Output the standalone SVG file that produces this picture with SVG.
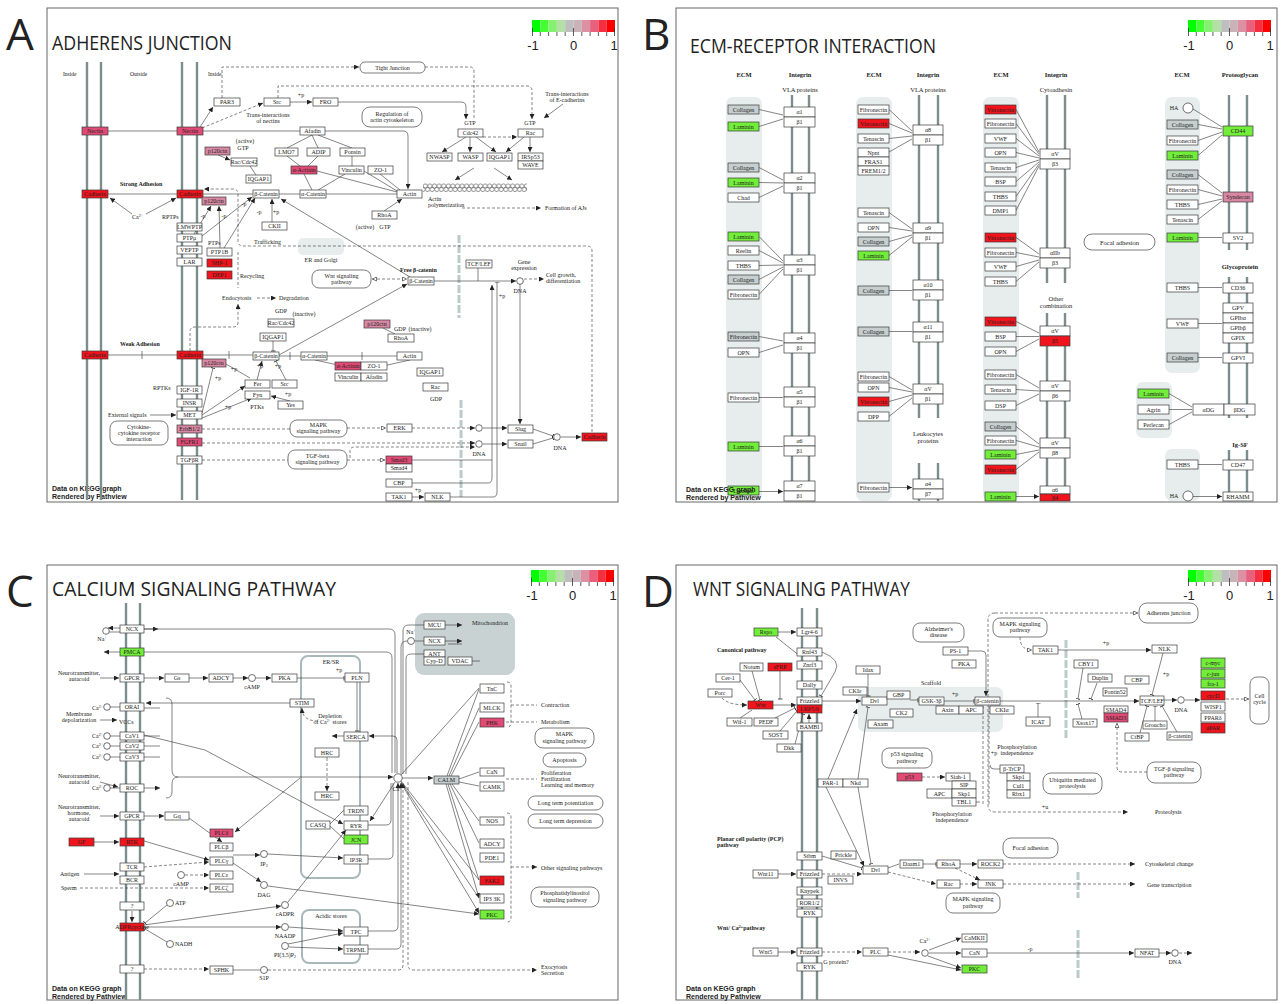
<svg xmlns="http://www.w3.org/2000/svg" width="1285" height="1004" viewBox="0 0 1285 1004">
<style>
.fr{fill:none;stroke:#666;stroke-width:1}
.n{fill:#fff;stroke:#3a3a3a;stroke-width:0.7}
.R{fill:#f2141c}.P{fill:#e24a76}.L{fill:#d888a2}.G{fill:#72ee3a}.Y{fill:#c6cece}
.t{font-family:"Liberation Serif",serif;font-size:6px;text-anchor:middle;fill:#222}
.tb{font-family:"Liberation Serif",serif;font-size:6.5px;text-anchor:middle;fill:#222}
.s{font-family:"Liberation Serif",serif;font-size:6px;fill:#222}
.sm{font-family:"Liberation Serif",serif;font-size:5.5px;fill:#222}
.b{font-weight:bold}
.m{stroke:#7b8d8d;stroke-width:2.4}
.e{fill:none;stroke:#333;stroke-width:0.6}
.d{stroke-dasharray:3 2}
.rb{fill:#fff;stroke:#444;stroke-width:0.7}
.bg{fill:#e7ecec}
.sep{stroke:#bccaca;stroke-width:3;stroke-dasharray:8 2;fill:none}
.ttl{font-family:"Open Sans",sans-serif;font-size:20px;fill:#222}
.big{font-family:"Open Sans",sans-serif;font-size:44px;fill:#222}
.ft{font-family:"Liberation Sans",sans-serif;font-size:7px;font-weight:bold;fill:#222}
.ci{fill:#fff;stroke:#333;stroke-width:0.7}
.lg{font-family:"Liberation Sans",sans-serif;font-size:13px;fill:#222;text-anchor:middle}
</style>
<defs>
<marker id="ma" viewBox="0 0 10 10" refX="10" refY="5" markerWidth="5" markerHeight="5" markerUnits="userSpaceOnUse" orient="auto"><path d="M0 0L10 5L0 10z" fill="#222"/></marker>
<marker id="mo" viewBox="0 0 10 10" refX="10" refY="5" markerWidth="5" markerHeight="5" markerUnits="userSpaceOnUse" orient="auto-start-reverse"><path d="M1 1L9 5L1 9z" fill="#fff" stroke="#222" stroke-width="1.2"/></marker>
<marker id="mt" viewBox="0 0 10 10" refX="9" refY="5" markerWidth="5" markerHeight="5" markerUnits="userSpaceOnUse" orient="auto"><path d="M9 0V10" stroke="#222" stroke-width="1.6"/></marker>
<pattern id="actin" x="423" y="183" width="4.6" height="10" patternUnits="userSpaceOnUse"><circle cx="2.3" cy="3" r="2.1" fill="#fff" stroke="#333" stroke-width="0.5"/><circle cx="4.6" cy="6.5" r="2.1" fill="#fff" stroke="#333" stroke-width="0.5"/><circle cx="0" cy="6.5" r="2.1" fill="#fff" stroke="#333" stroke-width="0.5"/></pattern>
<g id="leg">
<rect x="0" y="0" width="8.3" height="12" fill="#00ff00"/><rect x="8.3" y="0" width="8.3" height="12" fill="#44ff33"/><rect x="16.6" y="0" width="8.3" height="12" fill="#88f070"/><rect x="24.9" y="0" width="8.3" height="12" fill="#b4e0a8"/><rect x="33.2" y="0" width="8.3" height="12" fill="#bebebe"/><rect x="41.5" y="0" width="8.3" height="12" fill="#c8b4b8"/><rect x="49.8" y="0" width="8.3" height="12" fill="#dc90a4"/><rect x="58.1" y="0" width="8.3" height="12" fill="#e8607c"/><rect x="66.4" y="0" width="8.3" height="12" fill="#f43040"/><rect x="74.7" y="0" width="8.3" height="12" fill="#ff0000"/>
<path d="M0.5 8V16M8.3 12V16M16.6 12V16M24.9 12V16M33.2 12V16M41.5 8V16M49.8 12V16M58.1 12V16M66.4 12V16M74.7 12V16M82.5 8V16" stroke="#333" stroke-width="0.8"/>
<text class="lg" x="1" y="30">-1</text><text class="lg" x="41.5" y="30">0</text><text class="lg" x="82" y="30">1</text>
</g>
</defs>
<rect width="1285" height="1004" fill="#fff"/>

<!-- ===================== PANEL A ===================== -->
<g id="panelA">
<rect class="fr" x="47" y="8" width="571" height="494"/>
<text class="big" x="6" y="50">A</text>
<text class="ttl" x="52" y="50" textLength="180" lengthAdjust="spacingAndGlyphs">ADHERENS JUNCTION</text>
<use href="#leg" x="532" y="20"/>
<text class="ft" x="52" y="491">Data on KEGG graph</text>
<text class="ft" x="52" y="499">Rendered by Pathview</text>
<g id="a-membrane"><path class="m" d="M87 62V500M101 62V500M182 62V500M197 62V500"/></g>
<text class="sm" x="63" y="76">Inside</text><text class="sm" x="130" y="76">Outside</text><text class="sm" x="208" y="76">Inside</text>
<text class="s b" x="120" y="186">Strong Adhesion</text>
<text class="s b" x="120" y="346">Weak Adhesion</text>
<text class="s" x="132" y="219">Ca<tspan font-size="4" dy="-2">2+</tspan></text>
<text class="s" x="162" y="219">RPTPs</text>
<text class="s" x="208" y="245">PTPs</text>
<text class="s" x="153" y="390">RPTKs</text>
<text class="s" x="108" y="417">External signals</text>
<text class="s" x="254" y="244">Trafficking</text>
<text class="s" x="240" y="278">Recycling</text>
<text class="s" x="222" y="300">Endocytosis</text>
<text class="s" x="279" y="300">Degradation</text>
<text class="t" x="268" y="117">Trans-interactions</text><text class="t" x="268" y="123">of nectins</text>
<text class="t" x="567" y="96">Trans-interactions</text><text class="t" x="567" y="102">of E-cadherins</text>
<text class="t" x="245" y="143">(active)</text><text class="t" x="243" y="150">GTP</text>
<text class="t" x="470" y="125">GTP</text><text class="t" x="530" y="125">GTP</text>
<text class="t" x="365" y="229">(active)</text><text class="t" x="385" y="229">GTP</text>
<text class="s" x="428" y="201">Actin</text><text class="s" x="428" y="207">polymerization</text>
<text class="s" x="545" y="210">Formation of AJs</text>
<text class="t" x="321" y="262">ER and Golgi</text>
<text class="s b" x="400" y="272">Free β-catenin</text>
<text class="t" x="524" y="264">Gene</text><text class="t" x="524" y="270">expression</text>
<text class="t" x="520" y="293">DNA</text>
<text class="s" x="546" y="277">Cell growth,</text><text class="s" x="546" y="283">differentiation</text>
<text class="t" x="281" y="313">GDP</text><text class="t" x="304" y="316">(inactive)</text>
<text class="t" x="400" y="331">GDP</text><text class="t" x="420" y="331">(inactive)</text>
<text class="t" x="436" y="401">GDP</text>
<text class="t" x="257" y="409">PTKs</text>
<text class="t" x="479" y="456">DNA</text><text class="t" x="560" y="450">DNA</text>
<text class="t" x="301" y="97">+p</text>
<text class="t" x="203" y="218">-p</text><text class="t" x="224" y="218">-p</text><text class="t" x="244" y="206">-p</text><text class="t" x="259" y="214">-p</text><text class="t" x="276" y="214">+p</text>
<text class="t" x="218" y="380">+p</text><text class="t" x="228" y="409">+p</text><text class="t" x="234" y="371">+p</text><text class="t" x="260" y="368">+p</text><text class="t" x="278" y="368">+p</text><text class="t" x="288" y="396">+p</text>
<text class="t" x="502" y="298">+p</text><text class="t" x="418" y="492">+p</text>
<path class="sep" d="M459 235V318M461 400V497"/>
<rect x="298" y="238" width="46" height="17" rx="5" class="bg"/>
<rect x="423" y="183" width="104" height="10" fill="url(#actin)"/>

<g id="a-edges" class="e">
<path d="M108 131H177M203 131H300M108 194H177M203 194H253M279 194H300M326 194H397"/>
<path d="M200 127L213 107" marker-end="url(#ma)"/>
<path class="d" d="M202 128L263 103" marker-end="url(#ma)"/>
<path d="M290 102H312" marker-end="url(#ma)"/>
<path d="M338 102H461Q466 102 466 107V119" marker-end="url(#ma)"/>
<path class="d" d="M222 98V67H359" marker-end="url(#ma)"/>
<path class="d" d="M278 98V86H527Q532 86 532 91V119" marker-end="url(#ma)"/>
<path class="d" d="M425 67H470Q474 67 474 72V119" />
<path d="M325 131H403Q408 131 408 136V189" marker-end="url(#ma)"/>
<path d="M312 135L287 148M312 135L318 148M318 135L352 148M287 156L300 166M318 156L308 166M352 156V166M317 171L397 192M364 171L397 191M380 174L400 190M304 174L312 190M345 174L318 190"/>
<path d="M218 155L230 160" marker-end="url(#ma)"/>
<path d="M250 166L256 175"/>
<path d="M132 214L110 198" marker-end="url(#ma)"/><path d="M146 214L176 198" marker-end="url(#ma)"/>
<path d="M194 234L211 206" marker-end="url(#ma)"/><path d="M220 248L219 206" marker-end="url(#ma)"/>
<path d="M202 236L252 197" marker-end="url(#ma)"/><path d="M224 248L255 198" marker-end="url(#ma)"/>
<path d="M272 222V199" marker-end="url(#ma)"/>
<path d="M384 211L402 199" marker-end="url(#ma)"/>
<path class="d" d="M592 432V251Q592 246 587 246H243Q238 246 238 241V194Q238 189 233 189H204" marker-end="url(#ma)"/>
<path class="d" d="M238 252V288"/>
<path class="d" d="M190 351V332Q190 327 195 327H233Q238 327 238 322V304" marker-end="url(#ma)"/>
<path class="d" d="M257 298H276" marker-end="url(#ma)"/>
<path class="d" d="M372 279H407" marker-start="url(#mo)" marker-end="url(#mo)"/>
<path d="M410 277L281 199" marker-end="url(#ma)"/>
<path d="M279 355L407 284" marker-end="url(#ma)"/>
<path d="M434 281H516" marker-end="url(#ma)"/>
<path d="M478 268V281"/>
<path class="d" d="M524 279H544" marker-end="url(#ma)"/>
<path d="M520 283V424" marker-end="url(#ma)"/>
<path d="M412 483H488Q492 483 492 478V285" marker-end="url(#ma)"/>
<path d="M412 460H492"/>
<path d="M450 497H493Q497 497 497 492V282" marker-end="url(#mt)"/>
<path d="M412 497H424" marker-end="url(#ma)"/>
<path class="d" d="M412 428H475" marker-end="url(#ma)"/>
<path class="d" d="M202 429H290"/>
<path class="d" d="M347 428H386" marker-end="url(#mo)"/>
<path class="d" d="M202 443H475" marker-end="url(#ma)"/>
<path class="d" d="M202 460H288"/>
<path class="d" d="M347 460H385" marker-end="url(#mo)"/>
<path class="d" d="M350 458V451Q350 447 355 447H475" marker-end="url(#ma)"/>
<path d="M483 428H507" marker-end="url(#ma)"/><path d="M483 444H507" marker-end="url(#ma)"/>
<path d="M533 429L553 436" marker-end="url(#mt)"/><path d="M533 444L553 438" marker-end="url(#mt)"/>
<path d="M561 437H581" marker-end="url(#ma)"/>
<path d="M150 415H176" marker-end="url(#ma)"/>
<path d="M483 137H517" class="d" marker-end="url(#ma)"/>
<path d="M466 137L442 152" marker-end="url(#ma)"/><path d="M470 137V152" marker-end="url(#ma)"/><path d="M476 137L496 152" marker-end="url(#ma)"/>
<path d="M524 137L506 152" marker-end="url(#ma)"/><path d="M530 137V152" marker-end="url(#ma)"/>
<path d="M474 168L455 180" marker-end="url(#ma)"/><path d="M494 168L512 180" marker-end="url(#ma)"/>
<path class="d" d="M462 208H541" marker-end="url(#ma)"/>
<path d="M563 104L544 118" marker-end="url(#ma)"/>
<path d="M108 355H177M142 351V359M203 355H253M229 351V359M279 356H301M290 352V360M327 356H397M362 352V360"/>
<path d="M202 413L213 368" marker-end="url(#mt)"/>
<path d="M202 415L245 386" marker-end="url(#ma)"/>
<path d="M202 418L252 398" marker-end="url(#ma)"/>
<path d="M226 364L250 378"/>
<path d="M257 380L262 361" marker-end="url(#ma)"/>
<path d="M286 380L276 361" marker-end="url(#mt)"/>
<path d="M290 401L271 396" marker-end="url(#ma)"/>
<path d="M273 341V351" marker-end="url(#mt)"/>
<path d="M383 328L395 334M315 360L338 365M410 360L383 366"/>
</g>

<g id="a-nectin1"><rect class="n P" x="82" y="127" width="26" height="8"/><text class="t" x="95" y="133">Nectin</text></g>
<g id="a-nectin2"><rect class="n P" x="177" y="127" width="26" height="8"/><text class="t" x="190" y="133">Nectin</text></g>
<g id="a-par3"><rect class="n" x="214" y="98" width="26" height="8"/><text class="t" x="227" y="104">PAR3</text></g>
<g id="a-src1"><rect class="n" x="264" y="98" width="26" height="8"/><text class="t" x="277" y="104">Src</text></g>
<g id="a-fro"><rect class="n" x="313" y="98" width="25" height="8"/><text class="t" x="325.5" y="104">FRO</text></g>
<g id="a-tj"><rect class="rb" x="360" y="62" width="65" height="11" rx="5"/><text class="t" x="392.5" y="69.5">Tight Junction</text></g>
<g id="a-reg"><rect class="rb" x="362" y="107" width="60" height="20" rx="8"/><text class="t" x="392" y="116">Regulation of</text><text class="t" x="392" y="122">actin cytoskeleton</text></g>
<g id="a-afadin1"><rect class="n" x="300" y="127" width="25" height="8"/><text class="t" x="312.5" y="133">Afadin</text></g>
<g id="a-p120a"><rect class="n L" x="205" y="147" width="25" height="8"/><text class="t" x="217.5" y="153">p120ctn</text></g>
<g id="a-raccdc1"><rect class="n" x="231" y="158" width="26" height="8"/><text class="t" x="244" y="164">Rac/Cdc42</text></g>
<g id="a-iqgap1"><rect class="n" x="246" y="175" width="25" height="8"/><text class="t" x="258.5" y="181">IQGAP1</text></g>
<g id="a-lmo7"><rect class="n" x="275" y="148" width="23" height="8"/><text class="t" x="286.5" y="154">LMO7</text></g>
<g id="a-adip"><rect class="n" x="307" y="148" width="23" height="8"/><text class="t" x="318.5" y="154">ADIP</text></g>
<g id="a-ponsin"><rect class="n" x="340" y="148" width="25" height="8"/><text class="t" x="352.5" y="154">Ponsin</text></g>
<g id="a-actinin1"><rect class="n P" x="291" y="166" width="26" height="8"/><text class="t" x="304" y="172">α-Actinin</text></g>
<g id="a-vinculin1"><rect class="n" x="339" y="166" width="25" height="8"/><text class="t" x="351.5" y="172">Vinculin</text></g>
<g id="a-zo1a"><rect class="n" x="368" y="166" width="25" height="8"/><text class="t" x="380.5" y="172">ZO-1</text></g>
<g id="a-cad1"><rect class="n R" x="82" y="190" width="26" height="8"/><text class="t" x="95" y="196">Cadherin</text></g>
<g id="a-cad2"><rect class="n R" x="177" y="190" width="26" height="8"/><text class="t" x="190" y="196">Cadherin</text></g>
<g id="a-p120b"><rect class="n L" x="202" y="197" width="24" height="8"/><text class="t" x="214" y="203">p120ctn</text></g>
<g id="a-bcat1"><rect class="n" x="253" y="190" width="26" height="8"/><text class="t" x="266" y="196">β-Catenin</text></g>
<g id="a-acat1"><rect class="n" x="300" y="190" width="26" height="8"/><text class="t" x="313" y="196">α-Catenin</text></g>
<g id="a-actin1"><rect class="n" x="397" y="190" width="25" height="8"/><text class="t" x="409.5" y="196">Actin</text></g>
<g id="a-rhoa1"><rect class="n" x="372" y="211" width="25" height="8"/><text class="t" x="384.5" y="217">RhoA</text></g>
<g id="a-ckii"><rect class="n" x="262" y="222" width="25" height="8"/><text class="t" x="274.5" y="228">CKII</text></g>
<g id="a-lmwptp"><rect class="n" x="177" y="223" width="25" height="8"/><text class="t" x="189.5" y="229">LMWPTP</text></g>
<g id="a-ptpmu"><rect class="n" x="177" y="234" width="25" height="8"/><text class="t" x="189.5" y="240">PTPμ</text></g>
<g id="a-veptp"><rect class="n" x="177" y="246" width="25" height="8"/><text class="t" x="189.5" y="252">VEPTP</text></g>
<g id="a-lar"><rect class="n" x="177" y="258" width="25" height="8"/><text class="t" x="189.5" y="264">LAR</text></g>
<g id="a-ptp1b"><rect class="n" x="207" y="248" width="25" height="8"/><text class="t" x="219.5" y="254">PTP1B</text></g>
<g id="a-shp1"><rect class="n R" x="207" y="259" width="25" height="8"/><text class="t" x="219.5" y="265">SHP-1</text></g>
<g id="a-dep1"><rect class="n R" x="207" y="271" width="25" height="8"/><text class="t" x="219.5" y="277">DEP1</text></g>
<g id="a-cdc42"><rect class="n" x="458" y="129" width="25" height="8"/><text class="t" x="470.5" y="135">Cdc42</text></g>
<g id="a-rac1"><rect class="n" x="518" y="129" width="25" height="8"/><text class="t" x="530.5" y="135">Rac</text></g>
<g id="a-nwasp"><rect class="n" x="427" y="153" width="25" height="8"/><text class="t" x="439.5" y="159">NWASP</text></g>
<g id="a-wasp"><rect class="n" x="458" y="153" width="25" height="8"/><text class="t" x="470.5" y="159">WASP</text></g>
<g id="a-iqgap2"><rect class="n" x="487" y="153" width="25" height="8"/><text class="t" x="499.5" y="159">IQGAP1</text></g>
<g id="a-irsp53"><rect class="n" x="518" y="153" width="25" height="8"/><text class="t" x="530.5" y="159">IRSp53</text><rect class="n" x="518" y="161" width="25" height="8"/><text class="t" x="530.5" y="167">WAVE</text></g>
<g id="a-wnt"><rect class="rb" x="312" y="270" width="59" height="18" rx="7"/><text class="t" x="341.5" y="278">Wnt signaling</text><text class="t" x="341.5" y="284">pathway</text></g>
<g id="a-bcatf"><rect class="n" x="408" y="277" width="26" height="8"/><text class="t" x="421" y="283">β-Catenin</text></g>
<g id="a-tcf"><rect class="n" x="466" y="260" width="26" height="8"/><text class="t" x="479" y="266">TCF/LEF</text></g>
<g id="a-dna1"><circle class="ci" cx="520" cy="281" r="3.3"/></g>
<g id="a-raccdc2"><rect class="n" x="268" y="319" width="26" height="8"/><text class="t" x="281" y="325">Rac/Cdc42</text></g>
<g id="a-iqgap3"><rect class="n" x="260" y="333" width="26" height="8"/><text class="t" x="273" y="339">IQGAP1</text></g>
<g id="a-p120c"><rect class="n L" x="364" y="320" width="26" height="8"/><text class="t" x="377" y="326">p120ctn</text></g>
<g id="a-rhoa2"><rect class="n" x="388" y="334" width="26" height="8"/><text class="t" x="401" y="340">RhoA</text></g>
<g id="a-cad3"><rect class="n R" x="82" y="351" width="26" height="8"/><text class="t" x="95" y="357">Cadherin</text></g>
<g id="a-cad4"><rect class="n R" x="177" y="351" width="26" height="8"/><text class="t" x="190" y="357">Cadherin</text></g>
<g id="a-p120d"><rect class="n L" x="202" y="359" width="24" height="8"/><text class="t" x="214" y="365">p120ctn</text></g>
<g id="a-bcat2"><rect class="n" x="253" y="352" width="26" height="8"/><text class="t" x="266" y="358">β-Catenin</text></g>
<g id="a-acat2"><rect class="n" x="301" y="352" width="26" height="8"/><text class="t" x="314" y="358">α-Catenin</text></g>
<g id="a-actin2"><rect class="n" x="397" y="352" width="25" height="8"/><text class="t" x="409.5" y="358">Actin</text></g>
<g id="a-actinin2"><rect class="n P" x="335" y="362" width="26" height="8"/><text class="t" x="348" y="368">α-Actinin</text></g>
<g id="a-zo1b"><rect class="n" x="361" y="362" width="26" height="8"/><text class="t" x="374" y="368">ZO-1</text></g>
<g id="a-vinculin2"><rect class="n" x="335" y="373" width="26" height="8"/><text class="t" x="348" y="379">Vinculin</text></g>
<g id="a-afadin2"><rect class="n" x="361" y="373" width="26" height="8"/><text class="t" x="374" y="379">Afadin</text></g>
<g id="a-iqgap4"><rect class="n" x="417" y="368" width="26" height="8"/><text class="t" x="430" y="374">IQGAP1</text></g>
<g id="a-rac2"><rect class="n" x="423" y="383" width="25" height="8"/><text class="t" x="435.5" y="389">Rac</text></g>
<g id="a-fer"><rect class="n" x="245" y="380" width="25" height="8"/><text class="t" x="257.5" y="386">Fer</text></g>
<g id="a-src2"><rect class="n" x="272" y="380" width="25" height="8"/><text class="t" x="284.5" y="386">Src</text></g>
<g id="a-fyn"><rect class="n" x="245" y="391" width="25" height="8"/><text class="t" x="257.5" y="397">Fyn</text></g>
<g id="a-yes"><rect class="n" x="278" y="401" width="25" height="8"/><text class="t" x="290.5" y="407">Yes</text></g>
<g id="a-igf1r"><rect class="n" x="177" y="386" width="25" height="8"/><text class="t" x="189.5" y="392">IGF-1R</text></g>
<g id="a-insr"><rect class="n" x="177" y="399" width="25" height="8"/><text class="t" x="189.5" y="405">INSR</text></g>
<g id="a-met"><rect class="n" x="177" y="411" width="25" height="8"/><text class="t" x="189.5" y="417">MET</text></g>
<g id="a-erbb"><rect class="n L" x="177" y="425" width="25" height="8"/><text class="t" x="189.5" y="431">ErbB1/2</text></g>
<g id="a-fgfr1"><rect class="n P" x="177" y="438" width="25" height="8"/><text class="t" x="189.5" y="444">FGFR1</text></g>
<g id="a-tgfbr"><rect class="n" x="177" y="456" width="25" height="8"/><text class="t" x="189.5" y="462">TGFβR</text></g>
<g id="a-cyto"><rect class="rb" x="110" y="421" width="58" height="24" rx="7"/><text class="t" x="139" y="429">Cytokine-</text><text class="t" x="139" y="435">cytokine receptor</text><text class="t" x="139" y="441">interaction</text></g>
<g id="a-mapk"><rect class="rb" x="290" y="420" width="57" height="17" rx="7"/><text class="t" x="318.5" y="427">MAPK</text><text class="t" x="318.5" y="433">signaling pathway</text></g>
<g id="a-erk"><rect class="n" x="387" y="424" width="25" height="8"/><text class="t" x="399.5" y="430">ERK</text></g>
<g id="a-tgfb"><rect class="rb" x="288" y="450" width="59" height="19" rx="7"/><text class="t" x="317.5" y="458">TGF-beta</text><text class="t" x="317.5" y="464">signaling pathway</text></g>
<g id="a-smad3"><rect class="n P" x="386" y="456" width="26" height="8"/><text class="t" x="399" y="462">Smad3</text><rect class="n" x="386" y="464" width="26" height="8"/><text class="t" x="399" y="470">Smad4</text></g>
<g id="a-cbp"><rect class="n" x="386" y="479" width="26" height="8"/><text class="t" x="399" y="485">CBP</text></g>
<g id="a-tak1"><rect class="n" x="386" y="493" width="26" height="8"/><text class="t" x="399" y="499">TAK1</text></g>
<g id="a-nlk"><rect class="n" x="425" y="493" width="25" height="8"/><text class="t" x="437.5" y="499">NLK</text></g>
<g id="a-c1"><circle class="ci" cx="479" cy="428" r="3.3"/></g>
<g id="a-c2"><circle class="ci" cx="479" cy="444" r="3.3"/></g>
<g id="a-slug"><rect class="n" x="508" y="425" width="25" height="8"/><text class="t" x="520.5" y="431">Slug</text></g>
<g id="a-snail"><rect class="n" x="508" y="440" width="25" height="8"/><text class="t" x="520.5" y="446">Snail</text></g>
<g id="a-dna2"><circle class="ci" cx="557" cy="437" r="3.3"/></g>
<g id="a-cad5"><rect class="n R" x="582" y="433" width="25" height="8"/><text class="t" x="594.5" y="439">Cadherin</text></g>
</g>

<!-- ===================== PANEL B ===================== -->
<g id="panelB">
<rect class="fr" x="676" y="8" width="601" height="494"/>
<text class="big" x="642" y="50">B</text>
<text class="ttl" x="690" y="53" textLength="246" lengthAdjust="spacingAndGlyphs">ECM-RECEPTOR INTERACTION</text>
<use href="#leg" x="1188" y="20"/>
<rect class="bg" x="726" y="97" width="36" height="404" rx="7"/>
<rect class="bg" x="856" y="97" width="36" height="404" rx="7"/>
<rect class="bg" x="983" y="97" width="36" height="404" rx="7"/>
<rect class="bg" x="1165" y="97" width="35" height="276" rx="7"/>
<rect class="bg" x="1136" y="382" width="36" height="56" rx="7"/>
<rect class="bg" x="1165" y="449" width="35" height="52" rx="7"/>
<path class="m" d="M792 95V501M809 95V501M919 95V418M938 95V418M919 463V501M938 463V501M1047 95V283M1065 95V283M1047 313V501M1065 313V501M1229 95V250M1247 95V250M1229 277V418M1247 277V418M1229 450V501M1247 450V501"/>
<g class="tb b"><text x="744" y="77">ECM</text><text x="800" y="77">Integrin</text><text x="874" y="77">ECM</text><text x="928" y="77">Integrin</text><text x="1001" y="77">ECM</text><text x="1056" y="77">Integrin</text><text x="1182" y="77">ECM</text><text x="1240" y="77">Proteoglycan</text><text x="1240" y="269">Glycoprotein</text><text x="1240" y="447">Ig-SF</text></g>
<g class="tb"><text x="800" y="92">VLA proteins</text><text x="928" y="92">VLA proteins</text><text x="1056" y="92">Cytoadhesin</text><text x="928" y="436">Leukocytes</text><text x="928" y="443">proteins</text><text x="1056" y="301">Other</text><text x="1056" y="308">combination</text></g>
<g id="b-edges" class="e">
<path d="M759 109.5L783 115M759 126.5L783 119M759 167.5L783 180M759 182.5L783 183M759 197.5L783 186M759 236.5L783 261M759 250.5L783 263M759 265.5L783 265M759 279.5L783 267M759 294.5L783 269M759 336.5L783 341M759 352.5L783 345M759 397.5H783M759 446.5H783M759 491.5H783" marker-end="url(#ma)"/>
<path d="M889 109.5L912 131M889 123.5L912 133M889 138.5L912 136M889 152L912 139M889 212.5L912 229M889 227.5L912 231M889 241.5L912 235M889 255.5L912 237M889 290.5H912M889 331.5H912M889 376.5L912 390M889 387.5L912 392M889 401.5L912 395M889 416.5L912 398M889 487.5H912" marker-end="url(#ma)"/>
<path d="M1016 109.5L1039 152M1016 123.5L1039 154M1016 138.5L1039 156M1016 152.5L1039 158M1016 167.5L1039 160M1016 181.5L1039 162M1016 196.5L1039 164M1016 210.5L1039 166M1016 237.5L1039 254M1016 252.5L1039 257M1016 266.5L1039 260M1016 281.5L1039 262M1016 321.5L1039 333M1016 336.5H1039M1016 351.5L1039 339M1016 374.5L1039 388M1016 389.5L1039 391M1016 405.5L1039 394M1016 426.5L1039 444M1016 440.5L1039 447M1016 454.5L1039 450M1016 469.5L1039 452M1016 496.5H1039" marker-end="url(#ma)"/>
<path d="M1193 109L1222 127M1198 124.5L1222 129M1198 140.5L1222 132M1198 155.5L1222 135M1198 174.5L1222 193M1198 189.5L1222 196M1198 204.5L1222 199M1198 219.5L1222 201M1198 237.5H1222M1198 287.5H1222M1198 323.5H1222M1198 357.5H1222M1169 393.5L1192 407M1169 409.5H1192M1169 424.5L1192 412M1198 464.5H1222M1193 496.5H1222" marker-end="url(#ma)"/>
</g>
<g id="b-c1-col1"><rect class="n Y" x="728" y="105" width="31" height="9"/><text class="t" x="743.5" y="111.8">Collagen</text></g>
<g id="b-c1-lam1"><rect class="n G" x="728" y="122" width="31" height="9"/><text class="t" x="743.5" y="128.8">Laminin</text></g>
<g id="b-c1-col2"><rect class="n Y" x="728" y="163" width="31" height="9"/><text class="t" x="743.5" y="169.8">Collagen</text></g>
<g id="b-c1-lam2"><rect class="n G" x="728" y="178" width="31" height="9"/><text class="t" x="743.5" y="184.8">Laminin</text></g>
<g id="b-c1-chad"><rect class="n" x="728" y="193" width="31" height="9"/><text class="t" x="743.5" y="199.8">Chad</text></g>
<g id="b-c1-lam3"><rect class="n G" x="728" y="232" width="31" height="9"/><text class="t" x="743.5" y="238.8">Laminin</text></g>
<g id="b-c1-reelin"><rect class="n" x="728" y="246" width="31" height="9"/><text class="t" x="743.5" y="252.8">Reelin</text></g>
<g id="b-c1-thbs"><rect class="n" x="728" y="261" width="31" height="9"/><text class="t" x="743.5" y="267.8">THBS</text></g>
<g id="b-c1-col3"><rect class="n Y" x="728" y="275" width="31" height="9"/><text class="t" x="743.5" y="281.8">Collagen</text></g>
<g id="b-c1-fn1"><rect class="n" x="728" y="290" width="31" height="9"/><text class="t" x="743.5" y="296.8">Fibronectin</text></g>
<g id="b-c1-fn2"><rect class="n Y" x="728" y="332" width="31" height="9"/><text class="t" x="743.5" y="338.8">Fibronectin</text></g>
<g id="b-c1-opn"><rect class="n" x="728" y="348" width="31" height="9"/><text class="t" x="743.5" y="354.8">OPN</text></g>
<g id="b-c1-fn3"><rect class="n" x="728" y="393" width="31" height="9"/><text class="t" x="743.5" y="399.8">Fibronectin</text></g>
<g id="b-c1-lam4"><rect class="n G" x="728" y="442" width="31" height="9"/><text class="t" x="743.5" y="448.8">Laminin</text></g>
<g id="b-c1-lam5"><rect class="n G" x="728" y="486" width="31" height="9"/><text class="t" x="743.5" y="492.8">Laminin</text></g>
<g id="b-a1"><rect class="n" x="784" y="107" width="31" height="10"/><rect class="n" x="784" y="117" width="31" height="10"/><text class="t" x="799.5" y="114">α1</text><text class="t" x="799.5" y="124">β1</text></g>
<g id="b-a2"><rect class="n" x="784" y="173" width="31" height="10"/><rect class="n" x="784" y="183" width="31" height="10"/><text class="t" x="799.5" y="180">α2</text><text class="t" x="799.5" y="190">β1</text></g>
<g id="b-a3"><rect class="n" x="784" y="255" width="31" height="10"/><rect class="n" x="784" y="265" width="31" height="10"/><text class="t" x="799.5" y="262">α3</text><text class="t" x="799.5" y="272">β1</text></g>
<g id="b-a4"><rect class="n" x="784" y="333" width="31" height="10"/><rect class="n" x="784" y="343" width="31" height="10"/><text class="t" x="799.5" y="340">α4</text><text class="t" x="799.5" y="350">β1</text></g>
<g id="b-a5"><rect class="n" x="784" y="387" width="31" height="10"/><rect class="n" x="784" y="397" width="31" height="10"/><text class="t" x="799.5" y="394">α5</text><text class="t" x="799.5" y="404">β1</text></g>
<g id="b-a6"><rect class="n" x="784" y="436" width="31" height="10"/><rect class="n" x="784" y="446" width="31" height="10"/><text class="t" x="799.5" y="443">α6</text><text class="t" x="799.5" y="453">β1</text></g>
<g id="b-a7"><rect class="n" x="784" y="481" width="31" height="10"/><rect class="n" x="784" y="491" width="31" height="10"/><text class="t" x="799.5" y="488">α7</text><text class="t" x="799.5" y="498">β1</text></g>
<g id="b-c2-fn1"><rect class="n" x="858" y="105" width="31" height="9"/><text class="t" x="873.5" y="111.8">Fibronectin</text></g>
<g id="b-c2-vn1"><rect class="n R" x="858" y="119" width="31" height="9"/><text class="t" x="873.5" y="125.8">Vitronectin</text></g>
<g id="b-c2-tn1"><rect class="n" x="858" y="134" width="31" height="9"/><text class="t" x="873.5" y="140.8">Tenascin</text></g>
<g id="b-c2-npnt"><rect class="n" x="858" y="148" width="31" height="9"/><text class="t" x="873.5" y="154.8">Npnt</text><rect class="n" x="858" y="157" width="31" height="9"/><text class="t" x="873.5" y="163.8">FRAS1</text><rect class="n" x="858" y="166" width="31" height="9"/><text class="t" x="873.5" y="172.8">FREM1/2</text></g>
<g id="b-c2-tn2"><rect class="n" x="858" y="208" width="31" height="9"/><text class="t" x="873.5" y="214.8">Tenascin</text></g>
<g id="b-c2-opn1"><rect class="n" x="858" y="223" width="31" height="9"/><text class="t" x="873.5" y="229.8">OPN</text></g>
<g id="b-c2-col1"><rect class="n Y" x="858" y="237" width="31" height="9"/><text class="t" x="873.5" y="243.8">Collagen</text></g>
<g id="b-c2-lam1"><rect class="n G" x="858" y="251" width="31" height="9"/><text class="t" x="873.5" y="257.8">Laminin</text></g>
<g id="b-c2-col2"><rect class="n Y" x="858" y="286" width="31" height="9"/><text class="t" x="873.5" y="292.8">Collagen</text></g>
<g id="b-c2-col3"><rect class="n Y" x="858" y="327" width="31" height="9"/><text class="t" x="873.5" y="333.8">Collagen</text></g>
<g id="b-c2-fn2"><rect class="n" x="858" y="372" width="31" height="9"/><text class="t" x="873.5" y="378.8">Fibronectin</text></g>
<g id="b-c2-opn2"><rect class="n" x="858" y="383" width="31" height="9"/><text class="t" x="873.5" y="389.8">OPN</text></g>
<g id="b-c2-vn2"><rect class="n R" x="858" y="397" width="31" height="9"/><text class="t" x="873.5" y="403.8">Vitronectin</text></g>
<g id="b-c2-dpp"><rect class="n" x="858" y="412" width="31" height="9"/><text class="t" x="873.5" y="418.8">DPP</text></g>
<g id="b-c2-fn3"><rect class="n" x="858" y="483" width="31" height="9"/><text class="t" x="873.5" y="489.8">Fibronectin</text></g>
<g id="b-a8"><rect class="n" x="913" y="125" width="30" height="10"/><rect class="n" x="913" y="135" width="30" height="10"/><text class="t" x="928" y="132">α8</text><text class="t" x="928" y="142">β1</text></g>
<g id="b-a9"><rect class="n" x="913" y="223" width="30" height="10"/><rect class="n" x="913" y="233" width="30" height="10"/><text class="t" x="928" y="230">α9</text><text class="t" x="928" y="240">β1</text></g>
<g id="b-a10"><rect class="n" x="913" y="280" width="30" height="10"/><rect class="n" x="913" y="290" width="30" height="10"/><text class="t" x="928" y="287">α10</text><text class="t" x="928" y="297">β1</text></g>
<g id="b-a11"><rect class="n" x="913" y="322" width="30" height="10"/><rect class="n" x="913" y="332" width="30" height="10"/><text class="t" x="928" y="329">α11</text><text class="t" x="928" y="339">β1</text></g>
<g id="b-avb1"><rect class="n" x="913" y="384" width="30" height="10"/><rect class="n" x="913" y="394" width="30" height="10"/><text class="t" x="928" y="391">αV</text><text class="t" x="928" y="401">β1</text></g>
<g id="b-a4b7"><rect class="n" x="913" y="479" width="30" height="10"/><rect class="n" x="913" y="489" width="30" height="10"/><text class="t" x="928" y="486">α4</text><text class="t" x="928" y="496">β7</text></g>
<g id="b-c3-vn1"><rect class="n R" x="985" y="105" width="31" height="9"/><text class="t" x="1000.5" y="111.8">Vitronectin</text></g>
<g id="b-c3-fn1"><rect class="n" x="985" y="119" width="31" height="9"/><text class="t" x="1000.5" y="125.8">Fibronectin</text></g>
<g id="b-c3-vwf1"><rect class="n" x="985" y="134" width="31" height="9"/><text class="t" x="1000.5" y="140.8">VWF</text></g>
<g id="b-c3-opn1"><rect class="n" x="985" y="148" width="31" height="9"/><text class="t" x="1000.5" y="154.8">OPN</text></g>
<g id="b-c3-tn1"><rect class="n" x="985" y="163" width="31" height="9"/><text class="t" x="1000.5" y="169.8">Tenascin</text></g>
<g id="b-c3-bsp1"><rect class="n" x="985" y="177" width="31" height="9"/><text class="t" x="1000.5" y="183.8">BSP</text></g>
<g id="b-c3-thbs1"><rect class="n" x="985" y="192" width="31" height="9"/><text class="t" x="1000.5" y="198.8">THBS</text></g>
<g id="b-c3-dmp1"><rect class="n" x="985" y="206" width="31" height="9"/><text class="t" x="1000.5" y="212.8">DMP1</text></g>
<g id="b-c3-vn2"><rect class="n R" x="985" y="233" width="31" height="9"/><text class="t" x="1000.5" y="239.8">Vitronectin</text></g>
<g id="b-c3-fn2"><rect class="n" x="985" y="248" width="31" height="9"/><text class="t" x="1000.5" y="254.8">Fibronectin</text></g>
<g id="b-c3-vwf2"><rect class="n" x="985" y="262" width="31" height="9"/><text class="t" x="1000.5" y="268.8">VWF</text></g>
<g id="b-c3-thbs2"><rect class="n" x="985" y="277" width="31" height="9"/><text class="t" x="1000.5" y="283.8">THBS</text></g>
<g id="b-c3-vn3"><rect class="n R" x="985" y="317" width="31" height="9"/><text class="t" x="1000.5" y="323.8">Vitronectin</text></g>
<g id="b-c3-bsp2"><rect class="n" x="985" y="332" width="31" height="9"/><text class="t" x="1000.5" y="338.8">BSP</text></g>
<g id="b-c3-opn2"><rect class="n" x="985" y="347" width="31" height="9"/><text class="t" x="1000.5" y="353.8">OPN</text></g>
<g id="b-c3-fn3"><rect class="n" x="985" y="370" width="31" height="9"/><text class="t" x="1000.5" y="376.8">Fibronectin</text></g>
<g id="b-c3-tn2"><rect class="n" x="985" y="385" width="31" height="9"/><text class="t" x="1000.5" y="391.8">Tenascin</text></g>
<g id="b-c3-dsp"><rect class="n" x="985" y="401" width="31" height="9"/><text class="t" x="1000.5" y="407.8">DSP</text></g>
<g id="b-c3-col1"><rect class="n Y" x="985" y="422" width="31" height="9"/><text class="t" x="1000.5" y="428.8">Collagen</text></g>
<g id="b-c3-fn4"><rect class="n" x="985" y="436" width="31" height="9"/><text class="t" x="1000.5" y="442.8">Fibronectin</text></g>
<g id="b-c3-lam1"><rect class="n G" x="985" y="450" width="31" height="9"/><text class="t" x="1000.5" y="456.8">Laminin</text></g>
<g id="b-c3-vn4"><rect class="n R" x="985" y="465" width="31" height="9"/><text class="t" x="1000.5" y="471.8">Vitronectin</text></g>
<g id="b-c3-lam2"><rect class="n G" x="985" y="492" width="31" height="9"/><text class="t" x="1000.5" y="498.8">Laminin</text></g>
<g id="b-avb3"><rect class="n" x="1040" y="149" width="30" height="10"/><rect class="n" x="1040" y="159" width="30" height="10"/><text class="t" x="1055" y="156">αV</text><text class="t" x="1055" y="166">β3</text></g>
<g id="b-a2bb3"><rect class="n" x="1040" y="248" width="30" height="10"/><rect class="n" x="1040" y="258" width="30" height="10"/><text class="t" x="1055" y="255">αIIb</text><text class="t" x="1055" y="265">β3</text></g>
<g id="b-avb5"><rect class="n" x="1040" y="326" width="30" height="10"/><rect class="n R" x="1040" y="336" width="30" height="10"/><text class="t" x="1055" y="333">αV</text><text class="t" x="1055" y="343">β5</text></g>
<g id="b-avb6"><rect class="n" x="1040" y="381" width="30" height="10"/><rect class="n" x="1040" y="391" width="30" height="10"/><text class="t" x="1055" y="388">αV</text><text class="t" x="1055" y="398">β6</text></g>
<g id="b-avb8"><rect class="n" x="1040" y="438" width="30" height="10"/><rect class="n" x="1040" y="448" width="30" height="10"/><text class="t" x="1055" y="445">αV</text><text class="t" x="1055" y="455">β8</text></g>
<g id="b-a6b4"><rect class="n" x="1040" y="486" width="30" height="8"/><rect class="n R" x="1040" y="494" width="30" height="7"/><text class="t" x="1055" y="492">α6</text><text class="t" x="1055" y="500">β4</text></g>
<g id="b-ha1"><text class="t" x="1174" y="110">HA</text><circle class="ci" cx="1188" cy="108" r="5"/></g>
<g id="b-c4-col1"><rect class="n Y" x="1167" y="120" width="31" height="9"/><text class="t" x="1182.5" y="126.8">Collagen</text></g>
<g id="b-c4-fn1"><rect class="n" x="1167" y="136" width="31" height="9"/><text class="t" x="1182.5" y="142.8">Fibronectin</text></g>
<g id="b-c4-lam1"><rect class="n G" x="1167" y="151" width="31" height="9"/><text class="t" x="1182.5" y="157.8">Laminin</text></g>
<g id="b-c4-col2"><rect class="n Y" x="1167" y="170" width="31" height="9"/><text class="t" x="1182.5" y="176.8">Collagen</text></g>
<g id="b-c4-fn2"><rect class="n" x="1167" y="185" width="31" height="9"/><text class="t" x="1182.5" y="191.8">Fibronectin</text></g>
<g id="b-c4-thbs1"><rect class="n" x="1167" y="200" width="31" height="9"/><text class="t" x="1182.5" y="206.8">THBS</text></g>
<g id="b-c4-tn1"><rect class="n" x="1167" y="215" width="31" height="9"/><text class="t" x="1182.5" y="221.8">Tenascin</text></g>
<g id="b-c4-lam2"><rect class="n G" x="1167" y="233" width="31" height="9"/><text class="t" x="1182.5" y="239.8">Laminin</text></g>
<g id="b-c4-thbs2"><rect class="n" x="1167" y="283" width="31" height="9"/><text class="t" x="1182.5" y="289.8">THBS</text></g>
<g id="b-c4-vwf"><rect class="n" x="1167" y="319" width="31" height="9"/><text class="t" x="1182.5" y="325.8">VWF</text></g>
<g id="b-c4-col3"><rect class="n Y" x="1167" y="353" width="31" height="9"/><text class="t" x="1182.5" y="359.8">Collagen</text></g>
<g id="b-c4-lam3"><rect class="n G" x="1138" y="389" width="31" height="9"/><text class="t" x="1153.5" y="395.8">Laminin</text></g>
<g id="b-c4-agrin"><rect class="n" x="1138" y="405" width="31" height="9"/><text class="t" x="1153.5" y="411.8">Agrin</text></g>
<g id="b-c4-perlecan"><rect class="n" x="1138" y="420" width="31" height="9"/><text class="t" x="1153.5" y="426.8">Perlecan</text></g>
<g id="b-c4-thbs3"><rect class="n" x="1167" y="460" width="31" height="9"/><text class="t" x="1182.5" y="466.8">THBS</text></g>
<g id="b-ha2"><text class="t" x="1174" y="498">HA</text><circle class="ci" cx="1188" cy="496" r="5"/></g>
<g id="b-cd44"><rect class="n G" x="1223" y="126" width="30" height="10"/><text class="t" x="1238" y="133">CD44</text></g>
<g id="b-syndecan"><rect class="n L" x="1223" y="192" width="30" height="10"/><text class="t" x="1238" y="199">Syndecan</text></g>
<g id="b-sv2"><rect class="n" x="1223" y="233" width="30" height="10"/><text class="t" x="1238" y="240">SV2</text></g>
<g id="b-cd36"><rect class="n" x="1223" y="283" width="30" height="10"/><text class="t" x="1238" y="290">CD36</text></g>
<g id="b-gpib"><rect class="n" x="1223" y="303" width="30" height="10"/><text class="t" x="1238" y="310">GPV</text><rect class="n" x="1223" y="313" width="30" height="10"/><text class="t" x="1238" y="320">GPIbα</text><rect class="n" x="1223" y="323" width="30" height="10"/><text class="t" x="1238" y="330">GPIbβ</text><rect class="n" x="1223" y="333" width="30" height="10"/><text class="t" x="1238" y="340">GPIX</text></g>
<g id="b-gpvi"><rect class="n" x="1223" y="353" width="30" height="10"/><text class="t" x="1238" y="360">GPVI</text></g>
<g id="b-dg"><rect class="n" x="1193" y="404" width="31" height="11"/><text class="t" x="1208.5" y="411.5">αDG</text><rect class="n" x="1224" y="404" width="31" height="11"/><text class="t" x="1239.5" y="411.5">βDG</text></g>
<g id="b-cd47"><rect class="n" x="1223" y="460" width="30" height="10"/><text class="t" x="1238" y="467">CD47</text></g>
<g id="b-rhamm"><rect class="n" x="1223" y="492" width="30" height="9"/><text class="t" x="1238" y="498.5">RHAMM</text></g>
<g id="b-focal"><rect class="rb" x="1084" y="234" width="71" height="16" rx="8"/><text class="tb" x="1119.5" y="244.5">Focal adhesion</text></g>
<text class="ft" x="686" y="492">Data on KEGG graph</text>
<text class="ft" x="686" y="500">Rendered by Pathview</text>
</g>

<!-- ===================== PANEL C ===================== -->
<g id="panelC">
<rect class="fr" x="47" y="565" width="571" height="435"/>
<text class="big" x="6" y="607">C</text>
<text class="ttl" x="52" y="596" textLength="284" lengthAdjust="spacingAndGlyphs">CALCIUM SIGNALING PATHWAY</text>
<use href="#leg" x="531" y="570"/>
<text class="ft" x="52" y="991">Data on KEGG graph</text>
<text class="ft" x="52" y="999">Rendered by Pathview</text>
<path class="m" d="M126 603V1000M140 603V1000"/>
<rect x="415" y="613" width="100" height="62" rx="9" fill="#c9d2d2"/>
<rect x="301" y="656" width="59" height="222" rx="7" fill="none" stroke="#a9b9b9" stroke-width="2"/>
<rect x="302" y="910" width="58" height="53" rx="7" fill="none" stroke="#a9b9b9" stroke-width="2"/>
<text class="t" x="331" y="664">ER/SR</text>
<text class="t" x="331" y="918">Acidic stores</text>
<text class="s" x="472" y="625">Mitochondrion</text>
<g class="t"><text x="79" y="675">Neurotransmitter,</text><text x="79" y="681">autacoid</text><text x="79" y="716">Membrane</text><text x="79" y="722">depolarization</text><text x="79" y="778">Neurotransmitter,</text><text x="79" y="784">autacoid</text><text x="79" y="809">Neurotransmitter,</text><text x="79" y="815">hormone,</text><text x="79" y="821">autacoid</text></g>
<text class="s" x="60" y="876">Antigen</text><text class="s" x="61" y="890">Sperm</text>
<text class="s" x="119" y="724">VCCs</text>
<g class="s"><text x="92" y="710">Ca<tspan font-size="4" dy="-2">2+</tspan></text><text x="92" y="738">Ca<tspan font-size="4" dy="-2">2+</tspan></text><text x="92" y="748">Ca<tspan font-size="4" dy="-2">2+</tspan></text><text x="92" y="759">Ca<tspan font-size="4" dy="-2">2+</tspan></text><text x="92" y="790">Ca<tspan font-size="4" dy="-2">2+</tspan></text></g>
<text class="t" x="102" y="641">Na<tspan font-size="4" dy="-2">+</tspan></text>
<text class="t" x="411" y="634">Na<tspan font-size="4" dy="-2">+</tspan></text>
<text class="t" x="398" y="791">Ca<tspan font-size="4" dy="-2">2+</tspan></text>
<g class="t"><text x="252" y="689">cAMP</text><text x="181" y="886">cAMP</text><text x="264" y="866">IP<tspan font-size="4" dy="1">3</tspan></text><text x="264" y="897">DAG</text><text x="285" y="916">cADPR</text><text x="285" y="938">NAADP</text><text x="285" y="957">PI(3,5)P<tspan font-size="4" dy="1">2</tspan></text><text x="264" y="980">S1P</text><text x="339" y="672">+p</text></g>
<text class="s" x="175" y="905">ATP</text><text class="s" x="175" y="946">NADH</text>
<text class="t" x="330" y="718">Depletion</text><text class="t" x="330" y="724">of Ca<tspan font-size="4" dy="-2">2+</tspan><tspan dy="2"> stores</tspan></text>
<g class="s"><text x="541" y="707">Contraction</text><text x="541" y="724">Metabolism</text><text x="541" y="775">Proliferation</text><text x="541" y="781">Fertilization</text><text x="541" y="787">Learning and memory</text><text x="541" y="870">Other signaling pathways</text><text x="541" y="969">Exocytosis</text><text x="541" y="975">Secretion</text></g>
<g id="c-edges" class="e">
<path d="M120 628H108" marker-end="url(#ma)"/><path d="M109 632H120"/>
<path d="M144 629H158" marker-end="url(#ma)"/>
<path d="M144 629H389Q395 629 395 635V773"/>
<path d="M120 652H104" marker-end="url(#ma)"/>
<path d="M144 652H386Q392 652 392 658V773"/>
<path d="M100 678H119" marker-end="url(#ma)"/><path d="M144 678H164" marker-end="url(#ma)"/><path d="M189 678H208" marker-end="url(#ma)"/><path d="M233 678H248" marker-end="url(#ma)"/><path d="M256 678H271" marker-end="url(#ma)"/>
<path d="M297 678H344" marker-end="url(#mt)"/>
<path d="M110 707H120M110 736H120M110 746H120M110 757H120M110 788H120"/>
<path d="M290 703H146" marker-end="url(#ma)"/>
<path d="M144 708H160M144 736H160M144 746H160M144 757H160M144 788H160" marker-end="url(#ma)"/>
<path d="M100 720H117" marker-end="url(#ma)"/>
<path d="M100 782L118 787" marker-end="url(#ma)"/>
<path d="M144 735L205 750L343 824" marker-end="url(#ma)"/>
<path d="M166 698Q172 698 172 704V770Q172 777 178 777Q172 777 172 784V792Q172 798 166 798"/>
<path d="M178 777H393" marker-end="url(#ma)"/>
<path d="M100 816H119" marker-end="url(#ma)"/><path d="M144 816H164" marker-end="url(#ma)"/>
<path d="M189 818L222 842" marker-end="url(#ma)"/>
<path d="M94 842H119" marker-end="url(#ma)"/>
<path d="M144 841L209 860" marker-end="url(#ma)"/>
<path d="M84 874H119" marker-end="url(#ma)"/>
<path class="d" d="M144 867L209 862" marker-end="url(#ma)"/>
<path class="d" d="M185 875H209" marker-end="url(#ma)"/>
<path class="d" d="M80 888H209" marker-end="url(#ma)"/>
<path d="M300 778L235 832" marker-end="url(#ma)"/>
<path d="M233 855H260" marker-end="url(#ma)"/>
<path d="M233 863L261 882" marker-end="url(#ma)"/>
<path d="M268 854L343 858" marker-end="url(#ma)"/>
<path d="M368 859H388Q393 859 393 854V783"/>
<path d="M368 825H386Q391 825 391 820V783"/>
<path d="M395 782L370 821" marker-end="url(#ma)"/>
<path d="M368 931H393Q398 931 398 926V783" marker-end="url(#ma)"/>
<path d="M368 949H396Q401 949 401 944V783" marker-end="url(#ma)"/>
<path d="M402 778H433" marker-end="url(#ma)"/>
<path class="d" d="M268 970H398Q403 970 403 965V783" marker-end="url(#ma)"/>
<path class="d" d="M408 782V965Q408 970 413 970H537" marker-end="url(#ma)"/>
<path d="M210 970H268" marker-end="url(#ma)"/>
<path class="d" d="M144 969H209" marker-end="url(#ma)"/>
<path d="M132 911V922" marker-end="url(#ma)"/>
<path d="M167 905L145 923" marker-end="url(#mt)"/><path d="M167 942L145 929" marker-end="url(#mt)"/>
<path d="M144 925L281 906" marker-end="url(#ma)"/>
<path d="M144 927H281" marker-end="url(#ma)"/>
<path d="M288 902L346 830" marker-end="url(#ma)"/>
<path d="M289 927L343 931" marker-end="url(#ma)"/>
<path d="M288 944L343 933" marker-end="url(#ma)"/>
<path d="M289 947L343 949" marker-end="url(#ma)"/>
<path d="M268 886L479 914" marker-end="url(#ma)"/>
<path class="d" d="M327 758V791" marker-start="url(#ma)" marker-end="url(#ma)"/>
<path d="M344 736H332" marker-end="url(#ma)"/>
<path d="M397 773V740Q397 736 393 736H369" marker-end="url(#ma)"/>
<path d="M357 682V731" marker-end="url(#mt)"/>
<path class="d" d="M318 721Q302 721 302 708" marker-end="url(#ma)"/>
<path d="M330 824L344 810M330 826L344 839"/>
<path d="M445 625H462" marker-end="url(#ma)"/><path d="M445 641H462" marker-end="url(#ma)"/><path d="M462 644H448M472 661H480"/>
<path d="M424 625H409Q403 625 403 631V774"/>
<path d="M424 641H415M407 641Q401 641 401 647V774"/>
<path d="M424 654H411Q406 654 406 659V774"/>
<path d="M447 776L479 689M449 776L479 708M451 776L479 722M459 779L479 772M459 782L479 786M452 784L479 821M450 784L479 843M448 784L479 880M446 784L479 898" marker-end="url(#ma)"/>
<path d="M401 775L479 688" />
<path d="M401 781L479 880M401 782L479 898M401 783L479 913" marker-end="url(#ma)"/>
<path class="e d" d="M507 682Q511 682 511 686V723Q511 727 507 727M507 813Q511 813 511 817V918Q511 922 507 922"/>
<path class="d" d="M511 705H537M506 722H537M506 779H537M511 867H537" marker-end="url(#ma)"/>
</g>
<g id="c-ncx"><rect class="n" x="120" y="625" width="24" height="8"/><text class="t" x="132" y="631">NCX</text></g>
<g id="c-na"><circle class="ci" cx="106" cy="631" r="3.3"/></g>
<g id="c-pmca"><rect class="n G" x="120" y="648" width="24" height="8"/><text class="t" x="132" y="654">PMCA</text></g>
<g id="c-gpcr1"><rect class="n" x="120" y="674" width="24" height="8"/><text class="t" x="132" y="680">GPCR</text></g>
<g id="c-gs"><rect class="n" x="165" y="674" width="24" height="8"/><text class="t" x="177" y="680">Gs</text></g>
<g id="c-adcy1"><rect class="n" x="209" y="674" width="24" height="8"/><text class="t" x="221" y="680">ADCY</text></g>
<g id="c-camp1"><circle class="ci" cx="252" cy="678" r="3.5"/></g>
<g id="c-pka"><rect class="n" x="272" y="674" width="25" height="8"/><text class="t" x="284.5" y="680">PKA</text></g>
<g id="c-orai"><circle class="ci" cx="107" cy="707" r="3.3"/><rect class="n" x="120" y="703" width="24" height="8"/><text class="t" x="132" y="709">ORAI</text></g>
<g id="c-cav1"><circle class="ci" cx="107" cy="736" r="3.3"/><rect class="n" x="120" y="732" width="24" height="8"/><text class="t" x="132" y="738">CaV1</text></g>
<g id="c-cav2"><circle class="ci" cx="107" cy="746" r="3.3"/><rect class="n" x="120" y="742" width="24" height="8"/><text class="t" x="132" y="748">CaV2</text></g>
<g id="c-cav3"><circle class="ci" cx="107" cy="757" r="3.3"/><rect class="n" x="120" y="753" width="24" height="8"/><text class="t" x="132" y="759">CaV3</text></g>
<g id="c-roc"><circle class="ci" cx="107" cy="788" r="3.3"/><rect class="n" x="120" y="784" width="24" height="8"/><text class="t" x="132" y="790">ROC</text></g>
<g id="c-gpcr2"><rect class="n" x="120" y="812" width="24" height="8"/><text class="t" x="132" y="818">GPCR</text></g>
<g id="c-gq"><rect class="n" x="165" y="812" width="24" height="8"/><text class="t" x="177" y="818">Gq</text></g>
<g id="c-gf"><rect class="n R" x="69" y="838" width="25" height="8"/><text class="t" x="81.5" y="844">GF</text></g>
<g id="c-rtk"><rect class="n R" x="120" y="838" width="24" height="8"/><text class="t" x="132" y="844">RTK</text></g>
<g id="c-plcd"><rect class="n P" x="210" y="829" width="23" height="8"/><text class="t" x="221.5" y="835">PLCδ</text></g>
<g id="c-plcb"><rect class="n" x="210" y="843" width="23" height="8"/><text class="t" x="221.5" y="849">PLCβ</text></g>
<g id="c-plcg"><rect class="n" x="210" y="857" width="23" height="8"/><text class="t" x="221.5" y="863">PLCγ</text></g>
<g id="c-plce"><rect class="n" x="210" y="871" width="23" height="8"/><text class="t" x="221.5" y="877">PLCε</text></g>
<g id="c-plcz"><rect class="n" x="210" y="884" width="23" height="8"/><text class="t" x="221.5" y="890">PLCζ</text></g>
<g id="c-tcr"><rect class="n" x="120" y="863" width="24" height="8"/><text class="t" x="132" y="869">TCR</text></g>
<g id="c-bcr"><rect class="n" x="120" y="876" width="24" height="8"/><text class="t" x="132" y="882">BCR</text></g>
<g id="c-camp2"><circle class="ci" cx="181" cy="875" r="3.5"/></g>
<g id="c-q1"><rect class="n" x="120" y="902" width="24" height="8"/><text class="t" x="132" y="908">?</text></g>
<g id="c-atp"><circle class="ci" cx="170" cy="903" r="3.5"/></g>
<g id="c-adprc"><rect class="n R" x="120" y="923" width="24" height="8"/><text class="t" x="132" y="929" font-size="4.5">ADPRcyclase</text></g>
<g id="c-nadh"><circle class="ci" cx="170" cy="944" r="3.5"/></g>
<g id="c-q2"><rect class="n" x="120" y="965" width="24" height="8"/><text class="t" x="132" y="971">?</text></g>
<g id="c-sphk"><rect class="n" x="210" y="966" width="23" height="8"/><text class="t" x="221.5" y="972">SPHK</text></g>
<g id="c-ip3"><circle class="ci" cx="264" cy="854" r="3.5"/></g>
<g id="c-dag"><circle class="ci" cx="264" cy="885" r="3.5"/></g>
<g id="c-cadpr"><circle class="ci" cx="285" cy="905" r="3.5"/></g>
<g id="c-naadp"><circle class="ci" cx="285" cy="927" r="3.5"/></g>
<g id="c-pip2"><circle class="ci" cx="285" cy="946" r="3.5"/></g>
<g id="c-s1p"><circle class="ci" cx="264" cy="970" r="3.5"/></g>
<g id="c-pln"><rect class="n" x="345" y="673" width="24" height="9"/><text class="t" x="357" y="679.5">PLN</text></g>
<g id="c-stim"><rect class="n" x="290" y="699" width="24" height="8"/><text class="t" x="302" y="705">STIM</text></g>
<g id="c-serca"><rect class="n" x="344" y="732" width="24" height="9"/><text class="t" x="356" y="738.5">SERCA</text></g>
<g id="c-hrc1"><rect class="n" x="315" y="748" width="24" height="9"/><text class="t" x="327" y="754.5">HRC</text></g>
<g id="c-hrc2"><rect class="n" x="315" y="792" width="24" height="8"/><text class="t" x="327" y="798">HRC</text></g>
<g id="c-trdn"><rect class="n" x="344" y="806" width="24" height="9"/><text class="t" x="356" y="812.5">TRDN</text></g>
<g id="c-ryr"><rect class="n" x="344" y="821" width="24" height="9"/><text class="t" x="356" y="827.5">RYR</text></g>
<g id="c-jcn"><rect class="n G" x="344" y="835" width="24" height="9"/><text class="t" x="356" y="841.5">JCN</text></g>
<g id="c-casq"><rect class="n" x="306" y="821" width="24" height="8"/><text class="t" x="318" y="827">CASQ</text></g>
<g id="c-ip3r"><rect class="n" x="344" y="855" width="24" height="9"/><text class="t" x="356" y="861.5">IP3R</text></g>
<g id="c-tpc"><rect class="n" x="344" y="927" width="24" height="9"/><text class="t" x="356" y="933.5">TPC</text></g>
<g id="c-trpml"><rect class="n" x="344" y="945" width="24" height="9"/><text class="t" x="356" y="951.5">TRPML</text></g>
<g id="c-ca"><circle class="ci" cx="398" cy="778" r="4.2"/></g>
<g id="c-mcu"><rect class="n" x="424" y="621" width="21" height="8"/><text class="t" x="434.5" y="627">MCU</text></g>
<g id="c-na2"><circle class="ci" cx="411" cy="641" r="3.5"/></g>
<g id="c-ncx2"><rect class="n" x="424" y="637" width="21" height="8"/><text class="t" x="434.5" y="643">NCX</text></g>
<g id="c-ant"><rect class="n" x="424" y="650" width="21" height="7"/><text class="t" x="434.5" y="655.5">ANT</text><rect class="n" x="424" y="657" width="21" height="8"/><text class="t" x="434.5" y="663">Cyp-D</text></g>
<g id="c-vdac"><rect class="n" x="448" y="657" width="24" height="8"/><text class="t" x="460" y="663">VDAC</text></g>
<g id="c-calm"><rect class="n Y" x="434" y="776" width="25" height="8"/><text class="t" x="446.5" y="782">CALM</text></g>
<g id="c-tnc"><rect class="n" x="480" y="684" width="24" height="9"/><text class="t" x="492" y="690.5">TnC</text></g>
<g id="c-mlck"><rect class="n" x="480" y="703" width="24" height="9"/><text class="t" x="492" y="709.5">MLCK</text></g>
<g id="c-phk"><rect class="n P" x="480" y="718" width="24" height="9"/><text class="t" x="492" y="724.5">PHK</text></g>
<g id="c-can"><rect class="n" x="480" y="768" width="24" height="8"/><text class="t" x="492" y="774">CaN</text></g>
<g id="c-camk"><rect class="n" x="480" y="782" width="24" height="9"/><text class="t" x="492" y="788.5">CAMK</text></g>
<g id="c-nos"><rect class="n" x="480" y="817" width="24" height="8"/><text class="t" x="492" y="823">NOS</text></g>
<g id="c-adcy2"><rect class="n" x="480" y="839" width="24" height="9"/><text class="t" x="492" y="845.5">ADCY</text></g>
<g id="c-pde1"><rect class="n" x="480" y="853" width="24" height="9"/><text class="t" x="492" y="859.5">PDE1</text></g>
<g id="c-fak2"><rect class="n R" x="480" y="876" width="24" height="9"/><text class="t" x="492" y="882.5">FAK2</text></g>
<g id="c-ip33k"><rect class="n" x="480" y="894" width="24" height="9"/><text class="t" x="492" y="900.5">IP3 3K</text></g>
<g id="c-pkc"><rect class="n G" x="480" y="910" width="24" height="9"/><text class="t" x="492" y="916.5">PKC</text></g>
<g id="c-mapk"><rect class="rb" x="535" y="728" width="59" height="20" rx="8"/><text class="t" x="564.5" y="736">MAPK</text><text class="t" x="564.5" y="743">signaling pathway</text></g>
<g id="c-apop"><rect class="rb" x="543" y="753" width="43" height="14" rx="7"/><text class="t" x="564.5" y="762">Apoptosis</text></g>
<g id="c-ltp"><rect class="rb" x="528" y="796" width="75" height="14" rx="7"/><text class="t" x="565.5" y="805">Long term potentiation</text></g>
<g id="c-ltd"><rect class="rb" x="528" y="814" width="75" height="14" rx="7"/><text class="t" x="565.5" y="823">Long term depression</text></g>
<g id="c-pisig"><rect class="rb" x="531" y="887" width="68" height="20" rx="8"/><text class="t" x="565" y="895">Phosphatidylinositol</text><text class="t" x="565" y="902">signaling pathway</text></g>
</g>

<!-- ===================== PANEL D ===================== -->
<g id="panelD">
<rect class="fr" x="676" y="565" width="601" height="435"/>
<text class="big" x="642" y="607">D</text>
<text class="ttl" x="693" y="596" textLength="217" lengthAdjust="spacingAndGlyphs">WNT SIGNALING PATHWAY</text>
<use href="#leg" x="1188" y="570"/>
<text class="ft" x="686" y="991">Data on KEGG graph</text>
<text class="ft" x="686" y="999">Rendered by Pathview</text>
<path class="m" d="M802 608V1000M817 608V1000"/>
<rect class="bg" x="858" y="687" width="145" height="45" rx="7"/>
<path class="sep" d="M1066 640V740M1078 872V898M1078 930V978"/>
<g class="s b"><text x="717" y="652">Canonical pathway</text><text x="717" y="841">Planar cell polarity (PCP)</text><text x="717" y="847">pathway</text><text x="717" y="930">Wnt/ Ca<tspan font-size="4" dy="-2">2+</tspan><tspan dy="2">pathway</tspan></text></g>
<g class="t"><text x="836" y="964">G protein?</text><text x="931" y="685">Scaffold</text><text x="1017" y="749">Phosphorylation</text><text x="1017" y="755">independence</text><text x="994" y="755">+p</text><text x="952" y="816">Phosphorylation</text><text x="952" y="822">independence</text><text x="1045" y="809">+u</text><text x="1181" y="712">DNA</text><text x="1175" y="964">DNA</text><text x="1030" y="951">-p</text><text x="925" y="943">Ca<tspan font-size="4" dy="-2">2+</tspan></text><text x="1106" y="645">+p</text><text x="1166" y="676">+p</text><text x="955" y="696">+p</text></g>
<g class="s"><text x="1155" y="814">Proteolysis</text><text x="1145" y="866">Cytoskeletal change</text><text x="1147" y="887">Gene transcription</text></g>
<g id="d-edges" class="e">
<path d="M778 632H796" marker-end="url(#ma)"/>
<path d="M776 637L800 656"/>
<path d="M822 652Q842 660 835 672L821 696" marker-end="url(#mt)"/>
<path d="M752 671L760 700" marker-end="url(#mt)"/>
<path d="M740 680L755 700" marker-end="url(#mt)"/>
<path d="M780 671V699" marker-end="url(#mt)"/>
<path class="d" d="M722 698Q728 705 747 705" marker-end="url(#ma)"/>
<path d="M773 705H796" marker-end="url(#ma)"/>
<path d="M740 718L752 710"/>
<path d="M775 718L795 708" marker-end="url(#mt)"/>
<path d="M780 731L797 711" marker-end="url(#mt)"/>
<path d="M795 744L803 714" marker-end="url(#mt)"/>
<path d="M809 723V714" marker-end="url(#ma)"/>
<path d="M822 701H861" marker-end="url(#ma)"/>
<path d="M868 674V696" marker-end="url(#mt)"/>
<path d="M910 700H918" marker-end="url(#mt)"/>
<path d="M944 701H974" marker-end="url(#mt)"/>
<path d="M968 651H982Q986 651 986 655V696" marker-end="url(#ma)"/>
<path d="M1000 701H1139" marker-end="url(#ma)"/>
<path d="M1038 717V703" marker-end="url(#mt)"/>
<path d="M1083 668L1078 699" marker-end="url(#mt)"/>
<path d="M1097 683L1091 699" marker-end="url(#mt)"/>
<path d="M1082 719L1078 704" marker-end="url(#mt)"/>
<path class="d" d="M1020 637Q1020 650 1032 650" marker-end="url(#mo)"/>
<path d="M1058 650H1151" marker-end="url(#ma)"/>
<path d="M1163 653L1152 695" marker-end="url(#mt)"/>
<path d="M1140 733L1147 706" marker-end="url(#mt)"/>
<path d="M1155 721V706" marker-end="url(#mt)"/>
<path d="M1177 732L1162 706" marker-end="url(#mt)"/>
<path d="M1164 700H1177" marker-end="url(#ma)"/>
<path d="M1185 700H1200" marker-end="url(#ma)"/>
<path class="d" d="M1226 699H1249" marker-end="url(#mo)"/>
<path class="d" d="M1147 772H1122Q1117 772 1117 767V723" marker-end="url(#mo)"/>
<path class="d" d="M922 777H945" marker-end="url(#ma)"/>
<path d="M976 802H980"/>
<path class="d" d="M983 706V806M989 706V806"/>
<path d="M1000 769H994Q990 769 990 765"/>
<path class="d" d="M995 613H1138" marker-end="url(#mo)"/>
<path class="d" d="M995 613Q988 613 988 620V805Q988 812 995 812H1128" marker-end="url(#ma)"/>
<path d="M828 779L857 709" marker-end="url(#ma)"/>
<path d="M858 779L868 707" marker-end="url(#mt)"/>
<path d="M826 787L864 866" marker-end="url(#ma)"/>
<path d="M858 787L871 864" marker-end="url(#mt)"/>
<path d="M822 856L862 868" marker-end="url(#mt)"/>
<path d="M778 874H796" marker-end="url(#ma)"/>
<path class="d" d="M822 874H862" marker-end="url(#ma)"/>
<path d="M888 868L899 864"/>
<path d="M923 864H936" marker-end="url(#mt)"/>
<path d="M960 864H977" marker-end="url(#ma)"/>
<path class="d" d="M955 868L980 880" marker-end="url(#ma)"/>
<path class="d" d="M888 872L936 884" marker-end="url(#ma)"/>
<path class="d" d="M960 884H977" marker-end="url(#ma)"/>
<path class="d" d="M1003 864H1135" marker-end="url(#ma)"/>
<path class="d" d="M1003 884H1135" marker-end="url(#ma)"/>
<path d="M778 952H796" marker-end="url(#ma)"/>
<path class="d" d="M822 952H862" marker-end="url(#ma)"/>
<path class="d" d="M888 952H920" marker-end="url(#ma)"/>
<path d="M929 950L961 938" marker-end="url(#ma)"/>
<path d="M929 953H961" marker-end="url(#ma)"/>
<path d="M928 956L961 968" marker-end="url(#ma)"/>
<path d="M888 955L961 970" marker-end="url(#ma)"/>
<path d="M987 953H1134" marker-end="url(#ma)"/>
<path d="M1159 953H1171" marker-end="url(#ma)"/>
<path class="d" d="M1179 953H1192" marker-end="url(#ma)"/>
</g>
<g id="d-rspo"><rect class="n G" x="754" y="628" width="24" height="8"/><text class="t" x="766" y="634">Rspo</text></g>
<g id="d-lgr"><rect class="n" x="797" y="628" width="25" height="8"/><text class="t" x="809.5" y="634">Lgr4-6</text></g>
<g id="d-rnf43"><rect class="n" x="797" y="648" width="25" height="8"/><text class="t" x="809.5" y="654">Rnf43</text></g>
<g id="d-znrf3"><rect class="n" x="797" y="661" width="25" height="8"/><text class="t" x="809.5" y="667">Znrf3</text></g>
<g id="d-notum"><rect class="n" x="740" y="663" width="23" height="8"/><text class="t" x="751.5" y="669">Notum</text></g>
<g id="d-sfrp"><rect class="n R" x="768" y="663" width="24" height="8"/><text class="t" x="780" y="669">sFRP</text></g>
<g id="d-cer1"><rect class="n" x="716" y="674" width="24" height="8"/><text class="t" x="728" y="680">Cer-1</text></g>
<g id="d-porc"><rect class="n" x="708" y="689" width="24" height="8"/><text class="t" x="720" y="695">Porc</text></g>
<g id="d-dally"><rect class="n" x="797" y="681" width="25" height="8"/><text class="t" x="809.5" y="687">Dally</text></g>
<g id="d-fz1"><rect class="n" x="797" y="697" width="25" height="8"/><text class="t" x="809.5" y="703">Frizzled</text><rect class="n R" x="797" y="705" width="25" height="8"/><text class="t" x="809.5" y="711">LRP5/6</text></g>
<g id="d-wnt"><rect class="n R" x="748" y="701" width="25" height="8"/><text class="t" x="760.5" y="707">Wnt</text></g>
<g id="d-wif1"><rect class="n" x="727" y="718" width="25" height="8"/><text class="t" x="739.5" y="724">Wif-1</text></g>
<g id="d-pedf"><rect class="n" x="754" y="718" width="24" height="8"/><text class="t" x="766" y="724">PEDF</text></g>
<g id="d-sost"><rect class="n" x="763" y="731" width="25" height="8"/><text class="t" x="775.5" y="737">SOST</text></g>
<g id="d-dkk"><rect class="n" x="777" y="744" width="24" height="8"/><text class="t" x="789" y="750">Dkk</text></g>
<g id="d-bambi"><rect class="n" x="797" y="723" width="25" height="8"/><text class="t" x="809.5" y="729">BAMBI</text></g>
<g id="d-idax"><rect class="n" x="856" y="666" width="24" height="8"/><text class="t" x="868" y="672">Idax</text></g>
<g id="d-ckie"><rect class="n" x="843" y="687" width="24" height="8"/><text class="t" x="855" y="693">CKIε</text></g>
<g id="d-dvl1"><rect class="n" x="862" y="697" width="25" height="8"/><text class="t" x="874.5" y="703">Dvl</text></g>
<g id="d-gbp"><rect class="n" x="887" y="691" width="23" height="8"/><text class="t" x="898.5" y="697">GBP</text></g>
<g id="d-ck2"><rect class="n" x="890" y="709" width="23" height="8"/><text class="t" x="901.5" y="715">CK2</text></g>
<g id="d-axam"><rect class="n" x="868" y="720" width="25" height="8"/><text class="t" x="880.5" y="726">Axam</text></g>
<g id="d-gsk"><rect class="n" x="919" y="697" width="25" height="8"/><text class="t" x="931.5" y="703">GSK-3β</text></g>
<g id="d-bcat"><rect class="n" x="975" y="697" width="25" height="8"/><text class="t" x="987.5" y="703">β-catenin</text></g>
<g id="d-axin"><rect class="n" x="936" y="706" width="23" height="8"/><text class="t" x="947.5" y="712">Axin</text></g>
<g id="d-apc1"><rect class="n" x="959" y="706" width="24" height="8"/><text class="t" x="971" y="712">APC</text></g>
<g id="d-ckia"><rect class="n" x="990" y="706" width="24" height="8"/><text class="t" x="1002" y="712">CKIα</text></g>
<g id="d-alz"><rect class="rb" x="913" y="623" width="51" height="19" rx="7"/><text class="t" x="938.5" y="631">Alzheimer's</text><text class="t" x="938.5" y="637">disease</text></g>
<g id="d-ps1"><rect class="n" x="943" y="647" width="25" height="8"/><text class="t" x="955.5" y="653">PS-1</text></g>
<g id="d-pka"><rect class="n" x="952" y="660" width="24" height="8"/><text class="t" x="964" y="666">PKA</text></g>
<g id="d-mapk1"><rect class="rb" x="993" y="618" width="54" height="19" rx="7"/><text class="t" x="1020" y="626">MAPK signaling</text><text class="t" x="1020" y="632">pathway</text></g>
<g id="d-tak1"><rect class="n" x="1033" y="646" width="25" height="8"/><text class="t" x="1045.5" y="652">TAK1</text></g>
<g id="d-icat"><rect class="n" x="1026" y="717" width="24" height="9"/><text class="t" x="1038" y="723.5">ICAT</text></g>
<g id="d-par1"><rect class="n" x="818" y="779" width="25" height="8"/><text class="t" x="830.5" y="785">PAR-1</text></g>
<g id="d-nkd"><rect class="n" x="843" y="779" width="25" height="8"/><text class="t" x="855.5" y="785">Nkd</text></g>
<g id="d-p53path"><rect class="rb" x="882" y="748" width="50" height="20" rx="7"/><text class="t" x="907" y="756">p53 signaling</text><text class="t" x="907" y="763">pathway</text></g>
<g id="d-p53"><rect class="n P" x="897" y="773" width="25" height="8"/><text class="t" x="909.5" y="779">p53</text></g>
<g id="d-siah"><rect class="n" x="946" y="773" width="24" height="8"/><text class="t" x="958" y="779">Siah-1</text></g>
<g id="d-sip"><rect class="n" x="952" y="781" width="24" height="8"/><text class="t" x="964" y="787">SIP</text></g>
<g id="d-apc2"><rect class="n" x="927" y="789" width="25" height="9"/><text class="t" x="939.5" y="795.5">APC</text></g>
<g id="d-skp1a"><rect class="n" x="952" y="789" width="24" height="9"/><text class="t" x="964" y="795.5">Skp1</text></g>
<g id="d-tbl1"><rect class="n" x="952" y="798" width="24" height="8"/><text class="t" x="964" y="804">TBL1</text></g>
<g id="d-btrcp"><rect class="n" x="1000" y="765" width="24" height="8"/><text class="t" x="1012" y="771">β-TrCP</text></g>
<g id="d-skp1b"><rect class="n" x="1007" y="773" width="23" height="8"/><text class="t" x="1018.5" y="779">Skp1</text><rect class="n" x="1007" y="781" width="23" height="9"/><text class="t" x="1018.5" y="787.5">Cul1</text><rect class="n" x="1007" y="790" width="23" height="8"/><text class="t" x="1018.5" y="796">Rbx1</text></g>
<g id="d-ubq"><rect class="rb" x="1043" y="773" width="59" height="21" rx="8"/><text class="t" x="1072.5" y="782">Ubiquitin mediated</text><text class="t" x="1072.5" y="788">proteolysis</text></g>
<g id="d-adh"><rect class="rb" x="1139" y="603" width="59" height="20" rx="8"/><text class="t" x="1168.5" y="615">Adherens junction</text></g>
<g id="d-nlk"><rect class="n" x="1152" y="645" width="25" height="8"/><text class="t" x="1164.5" y="651">NLK</text></g>
<g id="d-cby1"><rect class="n" x="1074" y="660" width="24" height="8"/><text class="t" x="1086" y="666">CBY1</text></g>
<g id="d-duplin"><rect class="n" x="1088" y="674" width="24" height="8"/><text class="t" x="1100" y="680">Duplin</text></g>
<g id="d-cbp"><rect class="n" x="1125" y="676" width="24" height="8"/><text class="t" x="1137" y="682">CBP</text></g>
<g id="d-pontin"><rect class="n" x="1103" y="688" width="24" height="8"/><text class="t" x="1115" y="694">Pontin52</text></g>
<g id="d-tcf"><rect class="n" x="1140" y="696" width="24" height="9"/><text class="t" x="1152" y="702.5">TCF/LEF</text></g>
<g id="d-dna1"><circle class="ci" cx="1181" cy="700" r="3.3"/></g>
<g id="d-xsox"><rect class="n" x="1073" y="719" width="24" height="8"/><text class="t" x="1085" y="725">Xsox17</text></g>
<g id="d-smad"><rect class="n" x="1104" y="706" width="24" height="7"/><text class="t" x="1116" y="711.5">SMAD4</text><rect class="n P" x="1104" y="713" width="24" height="9"/><text class="t" x="1116" y="719.5">SMAD3</text></g>
<g id="d-ctbp"><rect class="n" x="1125" y="733" width="24" height="8"/><text class="t" x="1137" y="739">CtBP</text></g>
<g id="d-groucho"><rect class="n" x="1143" y="721" width="24" height="8"/><text class="t" x="1155" y="727">Groucho</text></g>
<g id="d-hdac"><rect class="n" x="1167" y="732" width="25" height="8"/><text class="t" x="1179.5" y="738">β-catenin</text></g>
<g id="d-cmyc"><rect class="n G" x="1201" y="658" width="24" height="10"/><text class="t" x="1213" y="665">c-myc</text></g>
<g id="d-cjun"><rect class="n G" x="1201" y="669" width="24" height="9"/><text class="t" x="1213" y="675.5">c-jun</text></g>
<g id="d-fra1"><rect class="n G" x="1201" y="679" width="24" height="9"/><text class="t" x="1213" y="685.5">fra-1</text></g>
<g id="d-cycd"><rect class="n R" x="1201" y="691" width="24" height="9"/><text class="t" x="1213" y="697.5">cycD</text></g>
<g id="d-wisp1"><rect class="n" x="1201" y="702" width="24" height="9"/><text class="t" x="1213" y="708.5">WISP1</text></g>
<g id="d-ppard"><rect class="n" x="1201" y="713" width="24" height="9"/><text class="t" x="1213" y="719.5">PPARδ</text></g>
<g id="d-upar"><rect class="n R" x="1201" y="723" width="24" height="10"/><text class="t" x="1213" y="730">uPAR</text></g>
<g id="d-cellcycle"><rect class="rb" x="1250" y="677" width="19" height="47" rx="7"/><text class="t" x="1259.5" y="698">Cell</text><text class="t" x="1259.5" y="704">cycle</text></g>
<g id="d-tgfb"><rect class="rb" x="1147" y="762" width="54" height="21" rx="8"/><text class="t" x="1174" y="771">TGF-β signaling</text><text class="t" x="1174" y="777">pathway</text></g>
<g id="d-stbm"><rect class="n" x="797" y="852" width="25" height="8"/><text class="t" x="809.5" y="858">Stbm</text></g>
<g id="d-prickle"><rect class="n" x="831" y="851" width="25" height="8"/><text class="t" x="843.5" y="857">Prickle</text></g>
<g id="d-wnt11"><rect class="n" x="753" y="870" width="25" height="8"/><text class="t" x="765.5" y="876">Wnt11</text></g>
<g id="d-fz2"><rect class="n" x="797" y="870" width="25" height="8"/><text class="t" x="809.5" y="876">Frizzled</text></g>
<g id="d-invs"><rect class="n" x="828" y="876" width="25" height="8"/><text class="t" x="840.5" y="882">INVS</text></g>
<g id="d-dvl2"><rect class="n" x="863" y="866" width="25" height="8"/><text class="t" x="875.5" y="872">Dvl</text></g>
<g id="d-knypek"><rect class="n" x="797" y="887" width="25" height="8"/><text class="t" x="809.5" y="893">Knypek</text></g>
<g id="d-ror"><rect class="n" x="797" y="899" width="25" height="8"/><text class="t" x="809.5" y="905">ROR1/2</text></g>
<g id="d-ryk1"><rect class="n" x="797" y="909" width="25" height="8"/><text class="t" x="809.5" y="915">RYK</text></g>
<g id="d-daam1"><rect class="n" x="900" y="860" width="23" height="8"/><text class="t" x="911.5" y="866">Daam1</text></g>
<g id="d-rhoa"><rect class="n" x="937" y="860" width="23" height="8"/><text class="t" x="948.5" y="866">RhoA</text></g>
<g id="d-rock2"><rect class="n" x="978" y="860" width="25" height="8"/><text class="t" x="990.5" y="866">ROCK2</text></g>
<g id="d-rac"><rect class="n" x="937" y="880" width="23" height="8"/><text class="t" x="948.5" y="886">Rac</text></g>
<g id="d-jnk"><rect class="n" x="978" y="880" width="25" height="8"/><text class="t" x="990.5" y="886">JNK</text></g>
<g id="d-mapk2"><rect class="rb" x="946" y="893" width="54" height="20" rx="7"/><text class="t" x="973" y="901">MAPK signaling</text><text class="t" x="973" y="908">pathway</text></g>
<g id="d-focal"><rect class="rb" x="1003" y="838" width="55" height="20" rx="8"/><text class="t" x="1030.5" y="850">Focal adhesion</text></g>
<g id="d-wnt5"><rect class="n" x="753" y="948" width="25" height="8"/><text class="t" x="765.5" y="954">Wnt5</text></g>
<g id="d-fz3"><rect class="n" x="797" y="948" width="25" height="8"/><text class="t" x="809.5" y="954">Frizzled</text></g>
<g id="d-ryk2"><rect class="n" x="797" y="963" width="25" height="8"/><text class="t" x="809.5" y="969">RYK</text></g>
<g id="d-plc"><rect class="n" x="863" y="948" width="25" height="8"/><text class="t" x="875.5" y="954">PLC</text></g>
<g id="d-ca"><circle class="ci" cx="925" cy="953" r="3.3"/></g>
<g id="d-camkii"><rect class="n" x="962" y="934" width="25" height="8"/><text class="t" x="974.5" y="940">CaMKII</text></g>
<g id="d-can"><rect class="n" x="962" y="949" width="25" height="8"/><text class="t" x="974.5" y="955">CaN</text></g>
<g id="d-pkc"><rect class="n G" x="962" y="965" width="25" height="8"/><text class="t" x="974.5" y="971">PKC</text></g>
<g id="d-nfat"><rect class="n" x="1135" y="949" width="24" height="8"/><text class="t" x="1147" y="955">NFAT</text></g>
<g id="d-dna2"><circle class="ci" cx="1175" cy="953" r="3.3"/></g>
</g>
</svg>
